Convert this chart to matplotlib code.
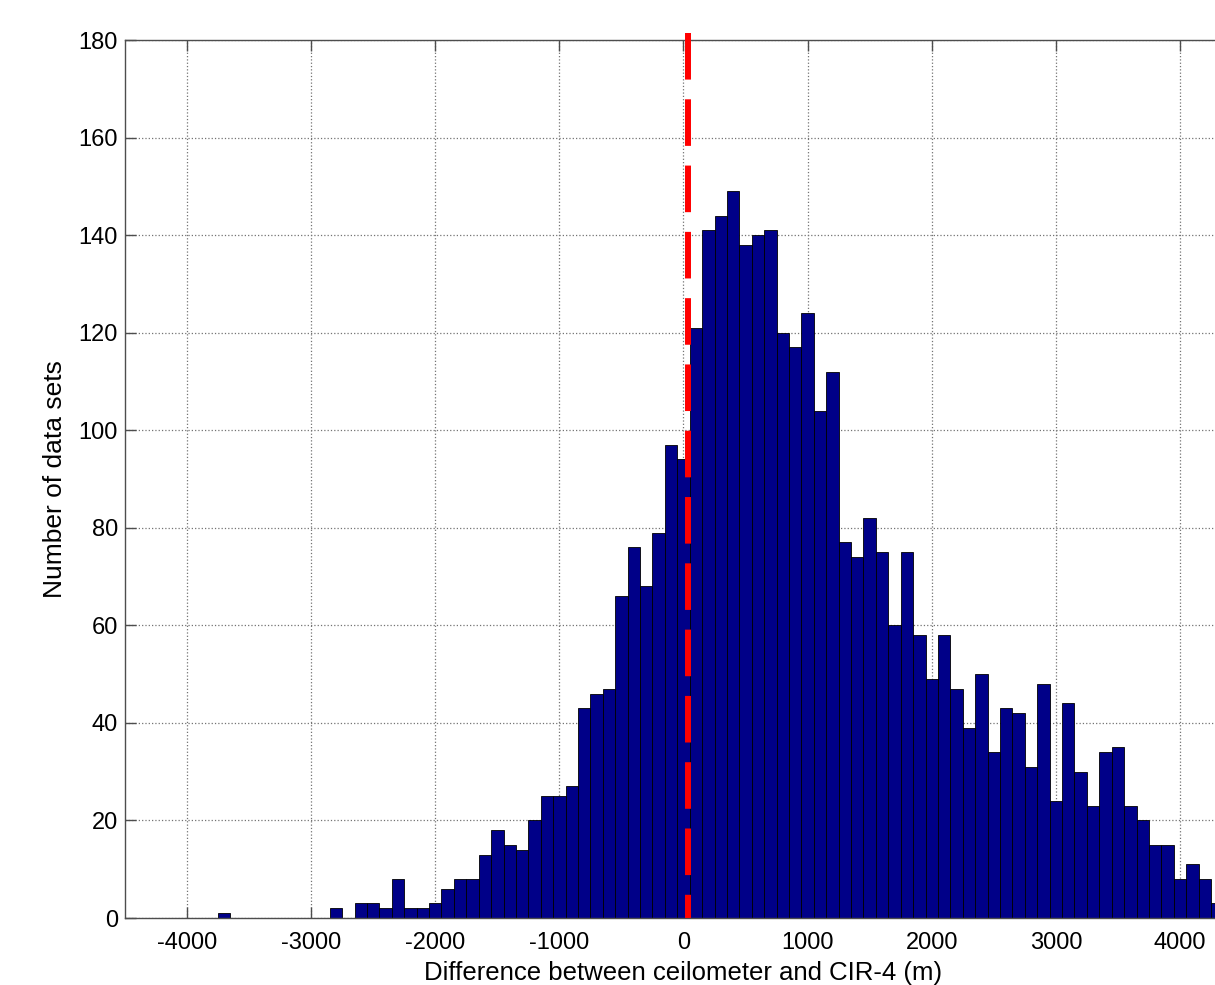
import matplotlib
matplotlib.use("Agg")
import matplotlib.pyplot as plt

plt.rcParams['font.family'] = ['Liberation Sans', 'DejaVu Sans']
plt.rcParams['axes.unicode_minus'] = False

# histogram of height differences, 100 m bins (centres)
bin_centers = list(range(-3700, 4400, 100))
counts = [1, 0, 0, 0, 0, 0, 0, 0, 0, 2,
          0, 3, 3, 2, 8, 2, 2, 3, 6, 8,
          8, 13, 18, 15, 14, 20, 25, 25, 27, 43,
          46, 47, 66, 76, 68, 79, 97, 94, 121, 141,
          144, 149, 138, 140, 141, 120, 117, 124, 104, 112,
          77, 74, 82, 75, 60, 75, 58, 49, 58, 47,
          39, 50, 34, 43, 42, 31, 48, 24, 44, 30,
          23, 34, 35, 23, 20, 15, 15, 8, 11, 8,
          3]
bin_width = 100
mean_diff = 40

x_ticks = [-4000, -3000, -2000, -1000, 0, 1000, 2000, 3000, 4000]
y_ticks = [0, 20, 40, 60, 80, 100, 120, 140, 160, 180]

fig = plt.figure(figsize=(12.15, 9.85), dpi=100)
ax = fig.add_axes([0.10288, 0.06802, 0.91934, 0.89137])

ax.set_axisbelow(True)
ax.grid(True, linestyle=':', color='0.45', linewidth=0.9)

ax.bar(bin_centers, counts, width=bin_width, color='#000088',
       edgecolor='black', linewidth=0.6)

ax.plot([mean_diff, mean_diff], [181.5, 0], color='red', linewidth=4.3,
        dashes=(7.8, 3.3), clip_on=False, zorder=5)

ax.set_xlim(-4500, 4500)
ax.set_ylim(0, 180)
ax.set_xticks(x_ticks)
ax.set_yticks(y_ticks)

for s in ax.spines.values():
    s.set_color('0.3')
    s.set_linewidth(1.0)

ax.tick_params(direction='in', length=8, width=1.0, color='0.3',
               top=True, right=True, labelsize=17)
ax.tick_params(axis='x', pad=10)
ax.tick_params(axis='y', pad=5)

ax.set_xlabel('Difference between ceilometer and CIR-4 (m)', fontsize=18.5, labelpad=5)
ax.set_ylabel('Number of data sets', fontsize=19, labelpad=8)

fig.savefig('out.png', dpi=100)
